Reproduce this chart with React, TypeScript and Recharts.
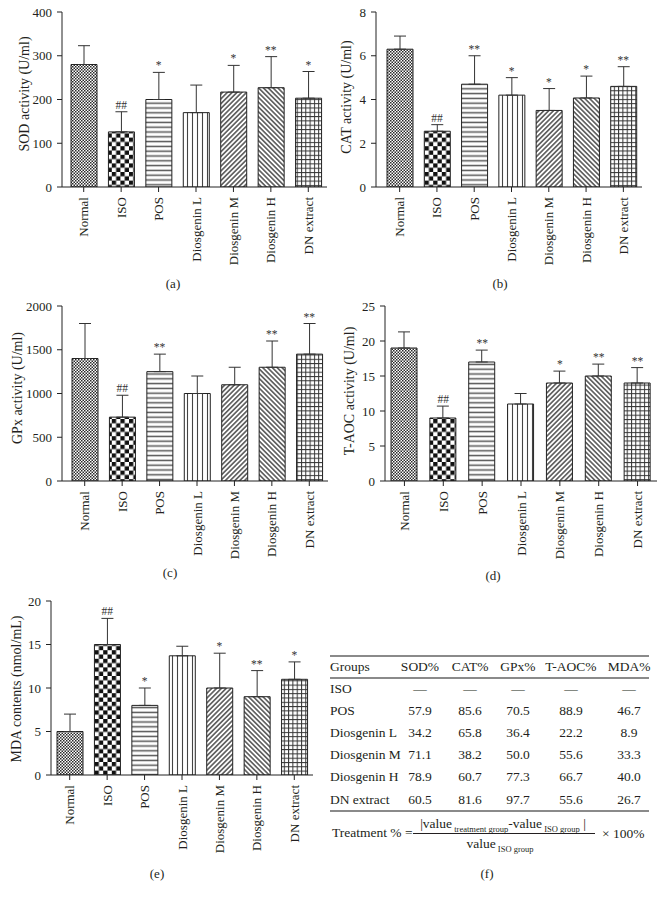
import React from 'react';
import {
  ComposedChart,
  Bar,
  Cell,
  ErrorBar,
  Scatter,
  XAxis,
  YAxis,
} from 'recharts';

const FONT = '"Liberation Serif", "DejaVu Serif", serif';
const INK = '#231f20';

const groups = ['Normal', 'ISO', 'POS', 'Diosgenin L', 'Diosgenin M', 'Diosgenin H', 'DN extract'];

// (a) SOD
const sodMeans = [280, 126, 200, 170, 217, 227, 203];
const sodErrors = [43, 46, 62, 63, 61, 71, 61];
const sodMarks = ['', '##', '*', '', '*', '**', '*'];
const sodTicks = [0, 100, 200, 300, 400];

// (b) CAT
const catMeans = [6.3, 2.55, 4.7, 4.2, 3.5, 4.07, 4.6];
const catErrors = [0.6, 0.3, 1.3, 0.8, 1.0, 1.0, 0.9];
const catMarks = ['', '##', '**', '*', '*', '*', '**'];
const catTicks = [0, 2, 4, 6, 8];

// (c) GPx
const gpxMeans = [1400, 730, 1250, 1000, 1100, 1300, 1450];
const gpxErrors = [400, 250, 200, 200, 200, 300, 350];
const gpxMarks = ['', '##', '**', '', '', '**', '**'];
const gpxTicks = [0, 500, 1000, 1500, 2000];

// (d) T-AOC
const taocMeans = [19, 9, 17, 11, 14, 15, 14];
const taocErrors = [2.3, 1.7, 1.7, 1.5, 1.7, 1.7, 2.2];
const taocMarks = ['', '##', '**', '', '*', '**', '**'];
const taocTicks = [0, 5, 10, 15, 20, 25];

// (e) MDA
const mdaMeans = [5, 15, 8, 13.7, 10, 9, 11];
const mdaErrors = [2, 3, 2, 1.1, 4, 3, 2];
const mdaMarks = ['', '##', '*', '', '*', '**', '*'];
const mdaTicks = [0, 5, 10, 15, 20];

// (f) table
const tableHeaders = ['Groups', 'SOD%', 'CAT%', 'GPx%', 'T-AOC%', 'MDA%'];
const tableGroups = ['ISO', 'POS', 'Diosgenin L', 'Diosgenin M', 'Diosgenin H', 'DN extract'];
const sodPct = ['—', '57.9', '34.2', '71.1', '78.9', '60.5'];
const catPct = ['—', '85.6', '65.8', '38.2', '60.7', '81.6'];
const gpxPct = ['—', '70.5', '36.4', '50.0', '77.3', '97.7'];
const taocPct = ['—', '88.9', '22.2', '55.6', '66.7', '55.6'];
const mdaPct = ['—', '46.7', '8.9', '33.3', '40.0', '26.7'];

const patternIds = ['pNormal', 'pIso', 'pPos', 'pDioL', 'pDioM', 'pDioH', 'pDn'];

const buildData = (means: number[], errors: number[], marks: string[]) =>
  groups.map((name, i) => ({
    name,
    mean: means[i],
    err: [0, errors[i]],
    top: means[i] + errors[i],
    mark: marks[i],
  }));

const Patterns = () => (
  <svg width={0} height={0} style={{ position: 'absolute' }}>
    <defs>
      <pattern id="pNormal" patternUnits="userSpaceOnUse" width={3} height={3}>
        <rect width={3} height={3} fill="#fff" />
        <rect x={0} y={0} width={1.5} height={1.5} fill="#2a2a2a" />
        <rect x={1.5} y={1.5} width={1.5} height={1.5} fill="#2a2a2a" />
      </pattern>
      <pattern id="pIso" patternUnits="userSpaceOnUse" width={8.6} height={8.6}>
        <rect width={8.6} height={8.6} fill="#fff" />
        <rect x={0} y={0} width={4.3} height={4.3} fill="#111" />
        <rect x={4.3} y={4.3} width={4.3} height={4.3} fill="#111" />
      </pattern>
      <pattern id="pPos" patternUnits="userSpaceOnUse" width={10} height={4.8}>
        <rect width={10} height={4.8} fill="#fff" />
        <line x1={0} y1={2.4} x2={10} y2={2.4} stroke="#555" strokeWidth={1.5} />
      </pattern>
      <pattern id="pDioL" patternUnits="userSpaceOnUse" width={5} height={10}>
        <rect width={5} height={10} fill="#fff" />
        <line x1={2.5} y1={0} x2={2.5} y2={10} stroke="#444" strokeWidth={1.1} />
      </pattern>
      <pattern id="pDioM" patternUnits="userSpaceOnUse" width={3.4} height={3.4} patternTransform="rotate(45)">
        <rect width={3.4} height={3.4} fill="#fff" />
        <line x1={1.7} y1={0} x2={1.7} y2={3.4} stroke="#333" strokeWidth={1.3} />
      </pattern>
      <pattern id="pDioH" patternUnits="userSpaceOnUse" width={3.4} height={3.4} patternTransform="rotate(-45)">
        <rect width={3.4} height={3.4} fill="#fff" />
        <line x1={1.7} y1={0} x2={1.7} y2={3.4} stroke="#333" strokeWidth={1.3} />
      </pattern>
      <pattern id="pDn" patternUnits="userSpaceOnUse" width={4.3} height={4.3}>
        <rect width={4.3} height={4.3} fill="#fff" />
        <line x1={0} y1={0.5} x2={4.3} y2={0.5} stroke="#333" strokeWidth={1} />
        <line x1={0.5} y1={0} x2={0.5} y2={4.3} stroke="#333" strokeWidth={1} />
      </pattern>
    </defs>
  </svg>
);

const RotTick = (props: any) => {
  const { x, y, payload } = props;
  return (
    <text
      x={x}
      y={y}
      dy="0.35em"
      transform={`rotate(-90 ${x} ${y})`}
      textAnchor="end"
      fontSize={13}
      fontFamily={FONT}
      fill={INK}
    >
      {payload.value}
    </text>
  );
};

const MarkShape = (props: any) => {
  const { cx, cy, payload } = props;
  if (!payload || !payload.mark) return <g />;
  return (
    <text x={cx} y={cy - 3} textAnchor="middle" fontSize={11.5} fontFamily={FONT} fill="#333">
      {payload.mark}
    </text>
  );
};

interface PanelProps {
  data: any[];
  ticks: number[];
  left: number;
  top: number;
  width: number;
  height: number;
  axisW: number;
  marginTop: number;
  marginRight: number;
  padLeft: number;
}

const X_AXIS_H = 85;

const Panel = ({ data, ticks, left, top, width, height, axisW, marginTop, marginRight, padLeft }: PanelProps) => (
  <div style={{ position: 'absolute', left, top }}>
    <ComposedChart
      width={width}
      height={height}
      data={data}
      margin={{ top: marginTop, right: marginRight, bottom: 0, left: 0 }}
    >
      <XAxis
        dataKey="name"
        interval={0}
        tick={<RotTick />}
        tickSize={5}
        tickMargin={5}
        height={X_AXIS_H}
        padding={{ left: padLeft, right: 0 }}
        axisLine={{ stroke: '#222' }}
        tickLine={{ stroke: '#222' }}
      />
      <YAxis
        domain={[0, ticks[ticks.length - 1]]}
        ticks={ticks}
        width={axisW}
        allowDataOverflow
        tickSize={5}
        tickMargin={5}
        axisLine={{ stroke: '#222' }}
        tickLine={{ stroke: '#222' }}
        tick={{ fontSize: 13, fill: INK, fontFamily: FONT }}
      />
      <Bar dataKey="mean" barSize={26} stroke="#222" strokeWidth={1} isAnimationActive={false}>
        {data.map((_, i) => (
          <Cell key={`c-${i}`} fill={`url(#${patternIds[i]})`} />
        ))}
        <ErrorBar dataKey="err" width={6} stroke="#333" strokeWidth={1} direction="y" />
      </Bar>
      <Scatter dataKey="top" shape={<MarkShape />} isAnimationActive={false} />
    </ComposedChart>
  </div>
);

const YLabel = ({ x, y, text }: { x: number; y: number; text: string }) => (
  <div
    style={{
      position: 'absolute',
      left: x,
      top: y,
      transform: 'translate(-50%, -50%) rotate(-90deg)',
      whiteSpace: 'nowrap',
      fontSize: 14,
      color: INK,
    }}
  >
    {text}
  </div>
);

const Caption = ({ x, y, text }: { x: number; y: number; text: string }) => (
  <div
    style={{
      position: 'absolute',
      left: x,
      top: y,
      transform: 'translate(-50%, -50%)',
      fontSize: 13,
      color: INK,
    }}
  >
    {text}
  </div>
);

const colCenters = [90, 140, 188, 241, 299];

const Table = () => {
  const cols = [sodPct, catPct, gpxPct, taocPct, mdaPct];
  const rowH = 22.1;
  const line = (y: number) => (
    <div style={{ position: 'absolute', left: 0, top: y, width: 319, height: 1.5, background: '#8a8a8a' }} />
  );
  const cell = (text: string, x: number, y: number, align: 'left' | 'center', key: string) => (
    <div
      key={key}
      style={{
        position: 'absolute',
        left: x,
        top: y,
        transform: align === 'center' ? 'translate(-50%, -50%)' : 'translate(0, -50%)',
        whiteSpace: 'nowrap',
        fontSize: 13.5,
        color: INK,
      }}
    >
      {text}
    </div>
  );
  return (
    <div style={{ position: 'absolute', left: 330, top: 655, width: 320, height: 200 }}>
      {line(0)}
      {cell(tableHeaders[0], 0, 11.5, 'left', 'h0')}
      {tableHeaders.slice(1).map((h, j) => cell(h, colCenters[j], 11.5, 'center', `h${j + 1}`))}
      {line(22)}
      {tableGroups.map((g, i) => (
        <React.Fragment key={g}>
          {cell(g, 0, 34 + i * rowH, 'left', `g${i}`)}
          {cols.map((c, j) => cell(c[i], colCenters[j], 34 + i * rowH, 'center', `v${i}-${j}`))}
        </React.Fragment>
      ))}
      {line(155)}
      <div style={{ position: 'absolute', left: 2, top: 178, transform: 'translate(0, -50%)', fontSize: 13.5, color: INK, whiteSpace: 'nowrap' }}>
        Treatment % =
      </div>
      <div style={{ position: 'absolute', left: 173, top: 170, transform: 'translate(-50%, -50%)', fontSize: 13.5, color: INK, whiteSpace: 'nowrap' }}>
        |value<sub style={{ fontSize: 8.5 }}> treatment group</sub>-value<sub style={{ fontSize: 8.5 }}> ISO group</sub> |
      </div>
      <div style={{ position: 'absolute', left: 83, top: 178, width: 182, height: 1, background: INK }} />
      <div style={{ position: 'absolute', left: 170, top: 190, transform: 'translate(-50%, -50%)', fontSize: 13.5, color: INK, whiteSpace: 'nowrap' }}>
        value<sub style={{ fontSize: 8.5 }}> ISO group</sub>
      </div>
      <div style={{ position: 'absolute', left: 272, top: 179, transform: 'translate(0, -50%)', fontSize: 13.5, color: INK, whiteSpace: 'nowrap' }}>
        × 100%
      </div>
    </div>
  );
};

const App = () => (
  <div
    style={{
      position: 'absolute',
      left: 0,
      top: 0,
      width: 658,
      height: 899,
      background: '#fff',
      fontFamily: FONT,
      overflow: 'hidden',
    }}
  >
    <Patterns />
    <Panel data={buildData(sodMeans, sodErrors, sodMarks)} ticks={sodTicks} left={0} top={0} width={330} height={272} axisW={62} marginTop={12} marginRight={3} padLeft={3} />
    <Panel data={buildData(catMeans, catErrors, catMarks)} ticks={catTicks} left={330} top={0} width={328} height={272} axisW={46} marginTop={12} marginRight={16} padLeft={5} />
    <Panel data={buildData(gpxMeans, gpxErrors, gpxMarks)} ticks={gpxTicks} left={0} top={290} width={330} height={276} axisW={62} marginTop={16} marginRight={2} padLeft={4} />
    <Panel data={buildData(taocMeans, taocErrors, taocMarks)} ticks={taocTicks} left={330} top={290} width={328} height={276} axisW={55} marginTop={16} marginRight={1} padLeft={0} />
    <Panel data={buildData(mdaMeans, mdaErrors, mdaMarks)} ticks={mdaTicks} left={0} top={590} width={330} height={270} axisW={51} marginTop={11} marginRight={17} padLeft={0} />

    <YLabel x={25} y={94} text="SOD activity (U/ml)" />
    <YLabel x={347} y={97} text="CAT activity (U/ml)" />
    <YLabel x={18} y={388} text="GPx activity (U/ml)" />
    <YLabel x={350} y={391} text="T-AOC activity (U/ml)" />
    <YLabel x={17} y={689} text="MDA contents (nmol/mL)" />

    <Caption x={173} y={284} text="(a)" />
    <Caption x={500} y={284} text="(b)" />
    <Caption x={170} y={573} text="(c)" />
    <Caption x={493} y={576} text="(d)" />
    <Caption x={157} y={874} text="(e)" />
    <Caption x={487} y={874} text="(f)" />

    <Table />
  </div>
);

export default App;
